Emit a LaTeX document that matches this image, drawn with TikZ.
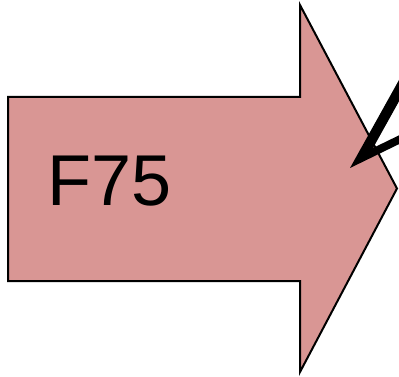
\documentclass[tikz,border=0pt]{standalone}
\usepackage{fontspec}
\setmainfont{Liberation Sans}
\definecolor{arrowpink}{RGB}{217,150,148}

\begin{document}
\begin{tikzpicture}[x=1pt,y=-1pt]
  % Parameters
  \def\bodyL{8}    % left end of the shaft
  \def\neck{300}   % where the head starts
  \def\tipx{397}   % tip of the head
  \def\midy{188.5} % centre line

  \useasboundingbox (0,0) rectangle (399,377);

  % Block arrow
  \draw[line width=2pt,line join=miter,fill=arrowpink]
    (\bodyL,97) -- (\neck,97) -- (\neck,5) -- (\tipx,\midy)
    -- (\neck,372) -- (\neck,281) -- (\bodyL,281) -- cycle;
  \node[anchor=base west,inner sep=0pt,font=\fontsize{72}{80}\selectfont] (label) at (47,205) {F75};

  % Pointer coming in from the right, clipped to the frame
  \begin{scope}
    \clip (0,0) rectangle (399,377);
    \fill (350,168) -- (404,71) -- (404,92.3) -- (373,148)
      -- (404,132.9) -- (404,141.7) -- cycle;
  \end{scope}
\end{tikzpicture}
\end{document}
